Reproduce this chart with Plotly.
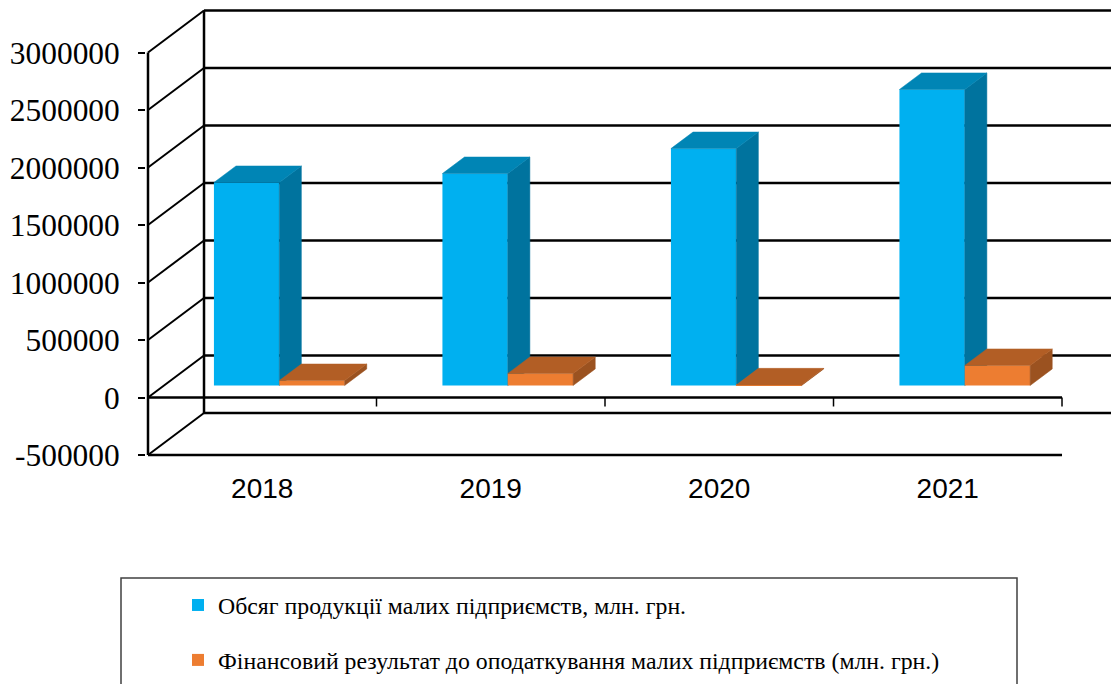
import plotly.graph_objects as go

categories = ["2018", "2019", "2020", "2021"]
volume = [1765000, 1843000, 2060000, 2574000]
profit = [43000, 104000, 5000, 174000]
y_ticks = [-500000, 0, 500000, 1000000, 1500000, 2000000, 2500000, 3000000]
y_labels = ["-500000", "0", "500000", "1000000", "1500000", "2000000", "2500000", "3000000"]
name_volume = "Обсяг продукції малих підприємств, млн. грн."
name_profit = "Фінансовий результат до оподаткування малих підприємств (млн. грн.)"

# pseudo-3D projection (category units / value units per unit of depth)
DX, DY = 0.2451, 365217
D0, D1 = 0.2857, 0.68
BW = 0.286
BAR_SHIFT = 0.0045
XMAX, YMAX = 4.2144, 3456522
PX_X, PX_Y = 228.5, 57.5 / 500000   # pixels per category, pixels per value unit
W, H = 1111, 684
L, B = 146, 219
PH = H - B
XMIN = -2 / PX_X
YMIN = -500000 - 10 / PX_Y

def proj(x, v, d):
    return x + d * DX, v + d * DY

def poly(pts):
    p = [proj(*q) for q in pts]
    return [a for a, _ in p] + [p[0][0]], [b for _, b in p] + [p[0][1]]

fig = go.Figure()

def add_bars(vals, off, front, top, side, name, xa, ya):
    xs = [i + 0.5 + off + BAR_SHIFT + BW / 2 + D0 * DX for i in range(len(vals))]
    fig.add_trace(go.Bar(x=xs, y=vals, base=[D0 * DY] * len(vals), width=BW, name=name,
                         marker=dict(color=front, line=dict(width=0)), xaxis=xa, yaxis=ya,
                         legendgroup=name))
    for i, v in enumerate(vals):
        x0 = i + 0.5 + off + BAR_SHIFT
        x1 = x0 + BW
        tx, ty = poly([(x0, v, D0), (x1, v, D0), (x1, v, D1), (x0, v, D1)])
        sx, sy = poly([(x1, 0, D0), (x1, v, D0), (x1, v, D1), (x1, 0, D1)])
        for px, py, c in ((sx, sy, side), (tx, ty, top)):
            fig.add_trace(go.Scatter(x=px, y=py, mode="lines", fill="toself", fillcolor=c,
                                     line=dict(width=0.5, color=c), showlegend=False,
                                     xaxis=xa, yaxis=ya))

add_bars(volume, -BW, "#00B0F0", "#0085B5", "#00739E", name_volume, "x", "y")
add_bars(profit, 0, "#ED7D31", "#B25E25", "#9B5220", name_profit, "x2", "y2")

shapes = []
def seg(x0, y0, x1, y1, w=2):
    shapes.append(dict(type="line", xref="x", yref="y", x0=x0, y0=y0, x1=x1, y1=y1,
                       layer="below", line=dict(color="#000000", width=w)))

n = len(categories)
for v in y_ticks:
    bx, by = proj(0, v, 1)
    seg(0, v, bx, by)                 # side wall diagonals
    seg(bx, by, XMAX, by, 2.5)        # back wall lines
ymin, ymax = y_ticks[0], y_ticks[-1]
seg(0, ymin, 0, ymax, 2.5)            # front vertical
bx0, by0 = proj(0, ymin, 1)
bx1, by1 = proj(0, ymax, 1)
seg(bx0, by0, bx1, by1, 2.5)          # back vertical
seg(0, ymin, n, ymin, 2.5)            # bottom front line
seg(0, 0, n, 0, 2.5)                  # zero axis
for i in range(1, n + 1):
    seg(i, 0, i, -9 / PX_Y, 1.5)

# legend frame
shapes.append(dict(type="rect", xref="paper", yref="paper",
                   x0=(121 - L) / (W - L), x1=(1017 - L) / (W - L),
                   y0=(PH - 700) / PH, y1=(PH - 578) / PH,
                   line=dict(color="#404040", width=1.5), fillcolor="rgba(0,0,0,0)"))

serif = "Liberation Serif"
fig.update_layout(
    width=W, height=H, margin=dict(l=L, r=0, t=0, b=B, autoexpand=False),
    paper_bgcolor="white", plot_bgcolor="white", barmode="overlay", hovermode=False,
    shapes=shapes,
    xaxis=dict(range=[XMIN, XMAX], tickvals=[i + 0.5 for i in range(n)], ticktext=categories,
               showgrid=False, zeroline=False, showline=False, ticks="",
               tickfont=dict(family="Liberation Sans", size=28, color="#000000"),
               ticklabelstandoff=4),
    yaxis=dict(range=[YMIN, YMAX], tickvals=y_ticks, ticktext=y_labels, showgrid=False,
               zeroline=False, showline=False, ticks="outside", ticklen=7, tickwidth=1.5,
               tickcolor="#000000", ticklabelstandoff=12,
               tickfont=dict(family=serif, size=31.4, color="#000000")),
    xaxis2=dict(range=[XMIN, XMAX], overlaying="x", visible=False),
    yaxis2=dict(range=[YMIN, YMAX], overlaying="y", visible=False),
    showlegend=True,
    legend=dict(x=(178 - L) / (W - L), xanchor="left", y=(PH - 583) / PH, yanchor="top",
                font=dict(family=serif, size=23.8, color="#000000"), tracegroupgap=21,
                bgcolor="rgba(0,0,0,0)", borderwidth=0),
)

fig.write_html("out.html", config={"displayModeBar": False},
               post_script="document.body.style.margin='0';document.body.style.overflow='hidden';")
